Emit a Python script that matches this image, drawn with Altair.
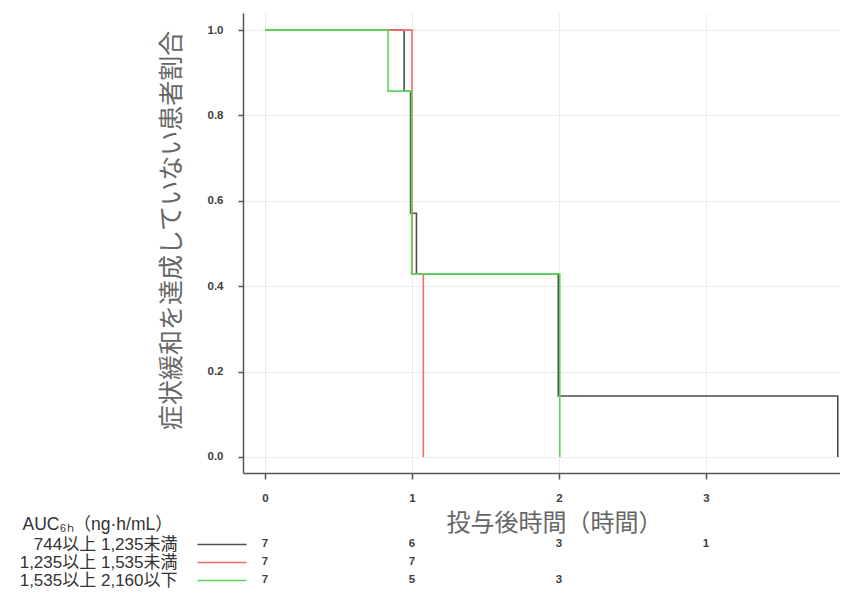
import altair as alt
import pandas as pd

# ---- data ----
groups = ["744以上 1,235未満", "1,235以上 1,535未満", "1,535以上 2,160以下"]
colors = ["#4d4d4d", "#f26b6b", "#5cd65c"]

g1_time = [0, 0.946, 0.99, 1.03, 1.995, 3.896]
g1_surv = [1.0, 0.857, 0.571, 0.429, 0.143, 0.0]
g2_time = [0, 1.0, 1.0, 1.077]
g2_surv = [1.0, 0.714, 0.429, 0.0]
g3_time = [0, 0.837, 0.997, 2.005]
g3_surv = [1.0, 0.857, 0.429, 0.0]

risk_times = [0, 1, 2, 3]
g1_risk = [7, 6, 3, 1]
g2_risk = [7, 7, None, None]
g3_risk = [7, 5, 3, None]

x_ticks = [0, 1, 2, 3, 4]
y_ticks = [0.0, 0.2, 0.4, 0.6, 0.8, 1.0]

header = "AUC₆ₕ（ng·h/mL）"
x_title = "投与後時間（時間）"
y_title = "症状緩和を達成していない患者割合"

# ---- tables ----
rows = []
for g, ts, ss in zip(groups, [g1_time, g2_time, g3_time], [g1_surv, g2_surv, g3_surv]):
    for i, (t, s) in enumerate(zip(ts, ss)):
        rows.append({"group": g, "time": t, "surv": s, "step": i})
km_df = pd.DataFrame(rows)

rrows = []
for g, ns in zip(groups, [g1_risk, g2_risk, g3_risk]):
    for t, n in zip(risk_times, ns):
        if n is not None:
            rrows.append({"group": g, "time": t, "n": n})
risk_df = pd.DataFrame(rrows)

axis_col = "#555555"
font = "Liberation Sans, Noto Sans CJK JP"
cjk = "Noto Sans CJK JP"
x_domain = [-0.15, 3.911]

x_enc = alt.X(
    "time:Q",
    scale=alt.Scale(domain=x_domain, nice=False, zero=False),
    axis=alt.Axis(
        values=x_ticks, format="d", title=x_title,
        titleFont=cjk, titleFontSize=24, titleFontWeight="normal", titleColor="#666666",
        titleX=311, titleY=50, titleAlign="center", titleBaseline="middle",
        labelFont=font, labelFontSize=11.5, labelFontWeight="bold", labelColor="#404040",
        labelPadding=13,
        tickSize=6, tickColor=axis_col, tickWidth=1.5,
        domainColor=axis_col, domainWidth=1.5,
        grid=True, gridColor="#ebebeb", gridWidth=1,
    ),
)

km = alt.Chart(km_df).mark_line(interpolate="step-after", strokeWidth=1.6).encode(
    x=x_enc,
    y=alt.Y(
        "surv:Q",
        scale=alt.Scale(domain=[-0.0375, 1.04], nice=False, zero=False),
        axis=alt.Axis(
            values=y_ticks, format=".1f", title=y_title,
            titleFont=cjk, titleFontSize=25, titleFontWeight="normal", titleColor="#666666",
            titleX=-72, titleY=217, titleAlign="center", titleBaseline="middle",
            labelFont=font, labelFontSize=11.5, labelFontWeight="bold", labelColor="#404040",
            labelPadding=15,
            tickSize=5, tickColor=axis_col, tickWidth=1.5,
            domainColor=axis_col, domainWidth=1.5,
            grid=True, gridColor="#ebebeb", gridWidth=1,
        ),
    ),
    color=alt.Color("group:N", scale=alt.Scale(domain=groups, range=colors), legend=None),
    order=alt.Order("step:Q"),
)

tick_cond = {
    "condition": [
        {"test": f"datum.value === '{groups[0]}'", "value": colors[0]},
        {"test": f"datum.value === '{groups[1]}'", "value": colors[1]},
    ],
    "value": colors[2],
}

table = alt.Chart(risk_df).mark_text(
    font=font, fontSize=11.5, fontWeight="bold", color="#404040"
).encode(
    x=alt.X("time:Q", scale=alt.Scale(domain=x_domain, nice=False, zero=False)),
    y=alt.Y(
        "group:N",
        scale=alt.Scale(type="point", domain=groups, range=[531, 567], padding=0),
        axis=alt.Axis(
            orient="left", offset=-3, domain=False, grid=False,
            tickSize=49, tickWidth=1.6, tickColor=tick_cond,
            labelFont=font, labelFontSize=17, labelColor="#333333", labelPadding=20,
            title=header, titleAngle=0, titleAlign="left", titleBaseline="middle",
            titleX=-224, titleY=511, titleFont=font, titleFontSize=17.5,
            titleFontWeight="normal", titleColor="#333333",
        ),
    ),
    text="n:Q",
)

chart = (
    alt.layer(km, table)
    .resolve_scale(y="independent")
    .properties(
        width=597, height=460,
        autosize=alt.AutoSizeParams(type="none"),
        padding={"left": 235, "top": 5, "right": 0, "bottom": 117},
        background="white",
    )
    .configure_view(strokeOpacity=0)
)

chart.save("out.html", embed_options={"renderer": "svg", "actions": False})
